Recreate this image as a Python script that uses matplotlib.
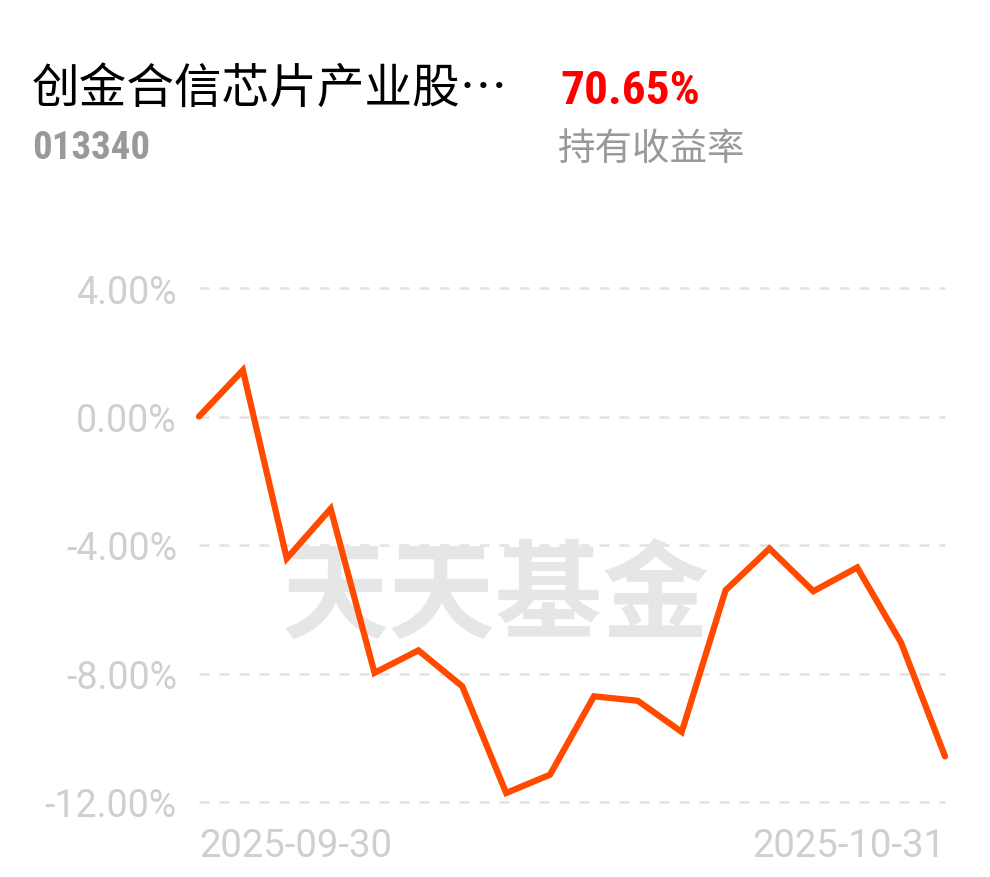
import matplotlib
matplotlib.use("Agg")
import matplotlib.pyplot as plt

plt.rcParams['font.family'] = ['Roboto', 'Noto Sans CJK SC', 'DejaVu Sans']

fund_name = "创金合信芯片产业股…"
fund_code = "013340"
hold_return = "70.65%"
hold_label = "持有收益率"
watermark = "天天基金"

returns = [0.00, 1.44, -4.42, -2.87, -7.98, -7.28, -8.40, -11.72, -11.15,
           -8.71, -8.85, -9.82, -5.41, -4.11, -5.44, -4.70, -7.04, -10.58]
y_ticks = [4, 0, -4, -8, -12]
y_tick_labels = ["4.00%", "0.00%", "-4.00%", "-8.00%", "-12.00%"]
x_tick_labels = ["2025-09-30", "2025-10-31"]

W, H = 990, 878
fig = plt.figure(figsize=(W / 100, H / 100), dpi=100)
fig.patch.set_facecolor("white")

ax = fig.add_axes([199 / W, 75 / H, (945 - 199) / W, 514 / H])
ax.set_facecolor("none")
x = list(range(len(returns)))
ax.set_xlim(0, len(returns) - 1)
ax.set_ylim(-12, 4)

for yv in y_ticks:
    ax.axhline(yv, color="#e2e2e2", lw=1.8, ls=(0, (4, 4)), clip_on=False, zorder=1)

ax.text(0.398, 0.398, watermark, transform=ax.transAxes, ha="center", va="center",
        fontsize=77, fontweight="bold", color="#e6e6e6",
        family=["Noto Sans CJK SC"], zorder=2)

ax.plot(x, returns, color="#ff4a00", lw=4.5, solid_joinstyle="miter",
        solid_capstyle="round", clip_on=False, zorder=3)

for s in ax.spines.values():
    s.set_visible(False)

ax.set_yticks(y_ticks)
ax.set_yticklabels(y_tick_labels)
ax.tick_params(axis="y", length=0, pad=16, labelsize=27, labelcolor="#cfcfcf")
ax.set_xticks([0, len(returns) - 1])
ax.set_xticklabels(x_tick_labels)
ax.tick_params(axis="x", length=0, pad=18, labelsize=27.5, labelcolor="#cfcfcf")
xl = ax.get_xticklabels()
xl[0].set_ha("left")
xl[1].set_ha("right")

fig.text(32 / W, 1 - 103 / H, fund_name, fontsize=34.3, color="black",
         family=["Noto Sans CJK SC", "DejaVu Sans"], va="baseline", ha="left")
fig.text(32 / W, 1 - 159 / H, fund_code, fontsize=28, color="#999999",
         fontweight="bold", family=["Roboto Condensed", "Roboto"],
         stretch="condensed", va="baseline", ha="left")
fig.text(560 / W, 1 - 104 / H, hold_return, fontsize=34, color="#ff0000",
         fontweight="bold", family=["Roboto Condensed", "Roboto"],
         stretch="condensed", va="baseline", ha="left")
fig.text(558 / W, 1 - 160 / H, hold_label, fontsize=27, color="#999999",
         family=["Noto Sans CJK SC"], va="baseline", ha="left")

fig.savefig("out.png", dpi=100, facecolor="white")
